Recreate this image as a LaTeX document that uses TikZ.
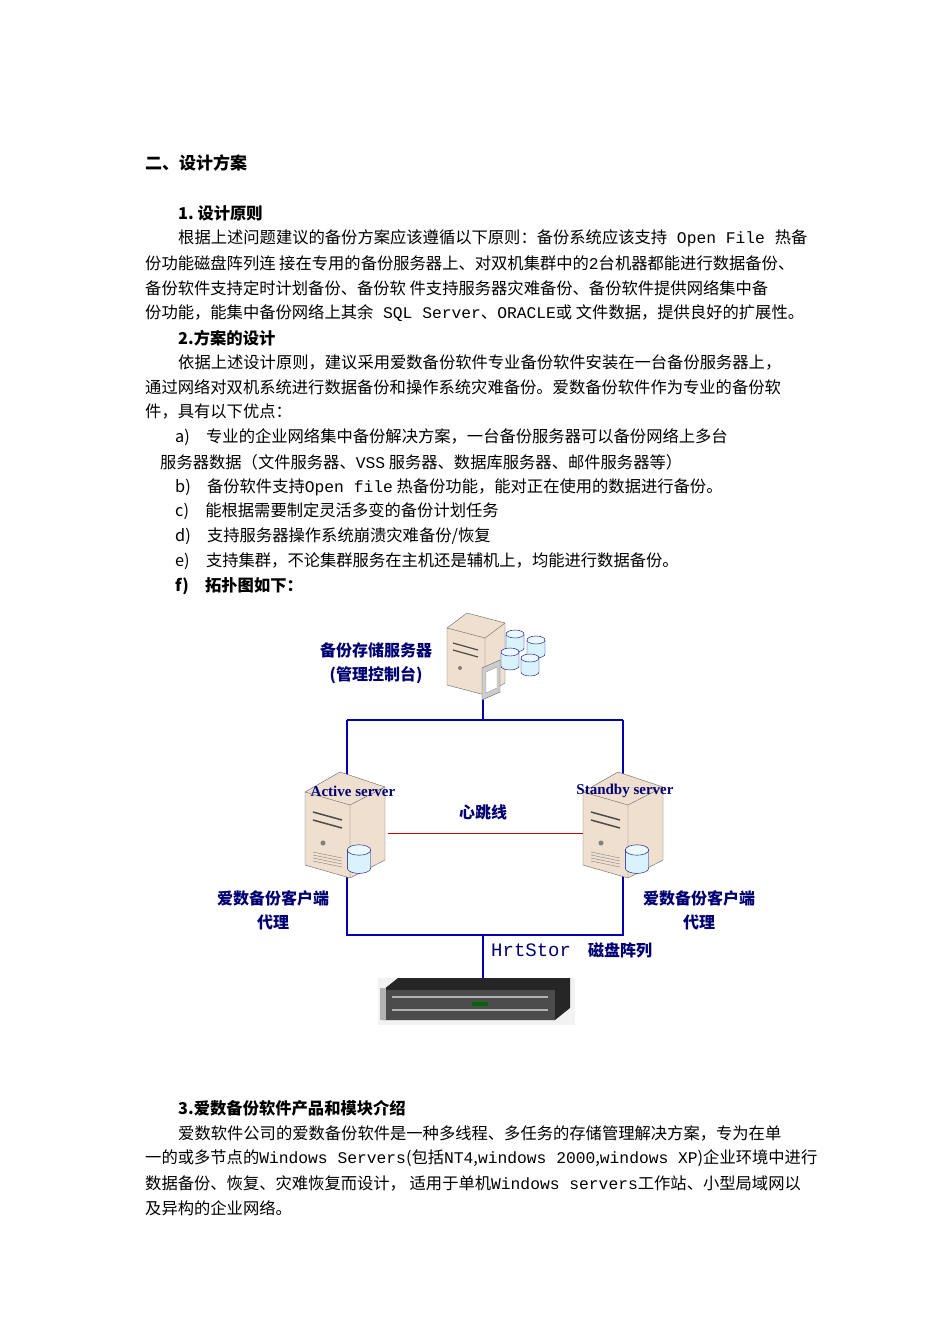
\documentclass[tikz,border=0pt]{standalone}
\usepackage{fontspec}
\setmainfont{Liberation Serif}
\newfontfamily\cjk{Noto Sans CJK SC}
\newfontfamily\mono{Liberation Mono}
\begin{document}
\begin{tikzpicture}[x=1pt,y=-1pt,
  txt/.style={anchor=west,inner sep=0pt,font=\cjk\fontsize{16.3}{18}\selectfont},
  bold/.style={anchor=west,inner sep=0pt,font=\cjk\bfseries\fontsize{16.3}{18}\selectfont},
  lbl/.style={inner sep=0pt,text=blue!45!black,font=\cjk\bfseries\fontsize{16}{24}\selectfont,align=center},
  net/.style={draw=blue!70!black,line width=2.2pt},
  tower/.style={fill=brown!25!white,draw=black!60},
  cylpic/.pic={
    \fill[cyan!15!white,draw=blue!50!black] (-9,0) -- (-9,14) arc[start angle=180,end angle=0,x radius=9,y radius=4] -- (9,0) -- cycle;
    \draw[fill=cyan!8!white,draw=blue!50!black] (0,0) ellipse (9 and 4);}]
\useasboundingbox (0,0) rectangle (950,1344);
\fill[white] (0,0) rectangle (950,1344);
\node[bold,font=\cjk\bfseries\fontsize{17}{20}\selectfont] (h) at (145,163) {二、设计方案};
\node[bold] (s1) at (178,213) {1.\ 设计原则};
\node[txt] (l1) at (178,238) {根据上述问题建议的备份方案应该遵循以下原则：备份系统应该支持{\mono\ Open File\ }热备};
\node[txt] (l2) at (145,263) {份功能磁盘阵列连\ 接在专用的备份服务器上、对双机集群中的{\mono 2}台机器都能进行数据备份、};
\node[txt] (l3) at (145,288) {备份软件支持定时计划备份、备份软\ 件支持服务器灾难备份、备份软件提供网络集中备};
\node[txt] (l4) at (145,313) {份功能，能集中备份网络上其余{\mono\ SQL Server}、{\mono ORACLE}或\ 文件数据，提供良好的扩展性。};
\node[bold] (s2) at (178,338) {2.方案的设计};
\node[txt] (l5) at (178,362) {依据上述设计原则，建议采用爱数备份软件专业备份软件安装在一台备份服务器上，};
\node[txt] (l6) at (145,387) {通过网络对双机系统进行数据备份和操作系统灾难备份。爱数备份软件作为专业的备份软};
\node[txt] (l7) at (145,412) {件，具有以下优点：};
\node[txt] (a1) at (175,437) {a)\quad 专业的企业网络集中备份解决方案，一台备份服务器可以备份网络上多台};
\node[txt] (a2) at (160,462) {服务器数据（文件服务器、{\mono VSS}\ 服务器、数据库服务器、邮件服务器等）};
\node[txt] (b1) at (175,487) {b)\quad 备份软件支持{\mono Open file}\ 热备份功能，能对正在使用的数据进行备份。};
\node[txt] (c1) at (175,511) {c)\quad 能根据需要制定灵活多变的备份计划任务};
\node[txt] (d1) at (175,536) {d)\quad 支持服务器操作系统崩溃灾难备份/恢复};
\node[txt] (e1) at (175,561) {e)\quad 支持集群，不论集群服务在主机还是辅机上，均能进行数据备份。};
\node[bold] (f1) at (175,586) {f)\quad 拓扑图如下：};
% diagram
\coordinate (top) at (483,690);
\coordinate (tl) at (347,720); \coordinate (tr) at (623,720);
\coordinate (tm) at (483,720);
\coordinate (bl) at (347,935); \coordinate (br) at (623,935);
\coordinate (bm) at (483,935); \coordinate (arr) at (483,978);
\draw[net] (top) -- (tm);
\draw[net] (tl) -- (tr);
\draw[net] (tl) -- (347,780); \draw[net] (tr) -- (623,780);
\draw[net] (347,875) -- (bl) -- (br) -- (623,875);
\draw[net] (bm) -- (arr);
\draw[red!80!black,line width=0.8pt] (388,833) -- (585,833);
% top server
\fill[tower] (447,628) -- (467,613) -- (505,623) -- (505,683) -- (485,695) -- (447,685) -- cycle;
\draw[black!60] (447,628) -- (485,638) -- (505,623) (485,638) -- (485,695);
\draw[black!70,line width=1.2pt] (453,643) -- (478,650) (453,650) -- (478,657);
\fill[black!50] (460,668) circle (2);
\fill[gray!40,draw=black!60] (482,668) -- (500,660) -- (500,692) -- (482,700) -- cycle;
\fill[white,draw=black!40] (486,672) -- (497,667) -- (497,688) -- (486,693) -- cycle;
\foreach \x/\y in {515/634,536/640,510/652,530/658}{\pic at (\x,\y) {cylpic};}
% towers
\foreach \x in {305,583}{
\fill[tower] (\x,792) -- (\x+35,772) -- (\x+80,787) -- (\x+80,860) -- (\x+45,878) -- (\x,865) -- cycle;
\draw[black!60] (\x,792) -- (\x+45,805) -- (\x+80,787) (\x+45,805) -- (\x+45,878);
\draw[black!70,line width=1.5pt] (\x+8,812) -- (\x+37,820) (\x+8,820) -- (\x+37,828);
\fill[black!50] (\x+18,843) circle (2.5);
\foreach \k in {0,3,6,9} \draw[black!50] (\x+8,852+\k) -- (\x+37,858+\k);
\pic[scale=1.3] at (\x+54,850) {cylpic};
}
\node[lbl] (bs) at (376,663) {备份存储服务器\\(管理控制台)};
\node[lbl,font=\bfseries\fontsize{15}{18}\selectfont] (as) at (353,791) {Active server};
\node[lbl,font=\bfseries\fontsize{15}{18}\selectfont] (ss) at (625,791) {Standby server};
\node[lbl] (hb) at (483,812) {心跳线};
\node[lbl] (c1l) at (273,910) {爱数备份客户端\\代理};
\node[lbl] (c2l) at (699,910) {爱数备份客户端\\代理};
\node[lbl,font=\mono\fontsize{19}{20}\selectfont,anchor=west] (hs) at (491,950) {HrtStor};
\node[lbl,anchor=west] (dk) at (588,950) {磁盘阵列};
% disk array
\fill[gray!10] (378,978) rectangle (575,1025);
\fill[black!85] (383,990) -- (398,978) -- (570,978) -- (570,1008) -- (555,1020) -- (383,1020) -- cycle;
\fill[black!70] (383,990) -- (555,990) -- (555,1020) -- (383,1020) -- cycle;
\draw[gray!60,line width=1.2pt] (392,997) -- (548,997) (392,1010) -- (548,1010);
\fill[green!40!black] (472,1002) rectangle (488,1006);
\fill[gray!60] (380,988) rectangle (386,1020);
% section 3
\node[bold] (s3) at (178,1108) {3.爱数备份软件产品和模块介绍};
\node[txt] (m1) at (178,1133) {爱数软件公司的爱数备份软件是一种多线程、多任务的存储管理解决方案，专为在单};
\node[txt] (m2) at (145,1158) {一的或多节点的{\mono Windows Servers}(包括{\mono NT4},{\mono windows 2000},{\mono windows XP})企业环境中进行};
\node[txt] (m3) at (145,1183) {数据备份、恢复、灾难恢复而设计，\ 适用于单机{\mono Windows servers}工作站、小型局域网以};
\node[txt] (m4) at (145,1208) {及异构的企业网络。};
\end{tikzpicture}
\end{document}
